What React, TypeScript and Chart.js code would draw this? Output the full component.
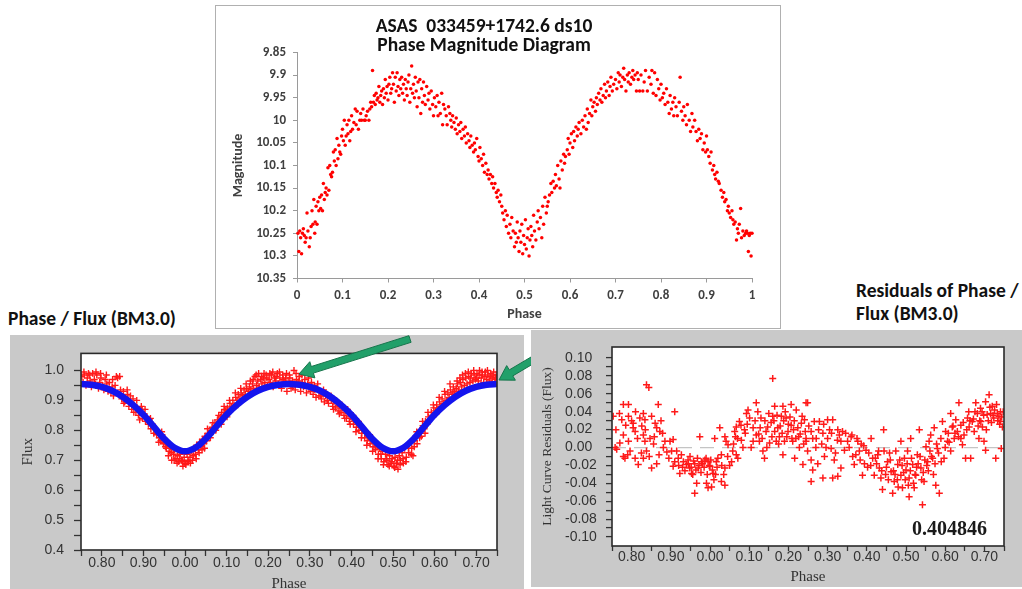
import React, { useEffect, useRef } from "react";
import { Chart, registerables } from "chart.js";
Chart.register(...registerables);

// ---------------- DATA ----------------
const topTitle = ["ASAS  033459+1742.6 ds10", "Phase Magnitude Diagram"];
const panelLeftTitle = "Phase / Flux (BM3.0)";
const panelRightTitle = ["Residuals of Phase /", "Flux (BM3.0)"];
const residualStat = "0.404846";

// phase, magnitude
const topPoints: [number, number][] = [
  [0.002,10.25],[0.004,10.29],[0.006,10.245],[0.008,10.26],[0.010,10.295],[0.012,10.25],[0.014,10.24],[0.016,10.255],[0.018,10.27],[0.020,10.26],
  [0.022,10.205],[0.024,10.245],[0.027,10.28],[0.029,10.26],[0.031,10.235],[0.033,10.2],[0.035,10.23],[0.037,10.175],[0.039,10.25],[0.040,10.225],
  [0.042,10.19],[0.044,10.23],[0.046,10.18],[0.048,10.2],[0.050,10.17],[0.052,10.195],[0.054,10.165],[0.056,10.2],[0.058,10.14],[0.060,10.175],
  [0.062,10.16],[0.064,10.15],[0.066,10.165],[0.068,10.105],[0.070,10.155],[0.072,10.1],[0.074,10.12],[0.076,10.125],[0.078,10.115],
  [0.080,10.07],[0.082,10.09],[0.084,10.065],[0.086,10.1],[0.088,10.04],[0.090,10.085],[0.092,10.055],[0.094,10.07],[0.096,10.075],[0.098,10.035],
  [0.100,10.02],[0.102,10.045],[0.104,10.0],[0.106,10.055],[0.108,10.035],[0.110,10.01],[0.112,10.03],[0.114,10.0],[0.116,10.045],[0.118,10.025],[0.120,9.99],[0.122,10.02],[0.125,10.005],[0.128,9.975],
  [0.130,10.01],[0.132,9.98],[0.135,10.02],[0.138,10.0],[0.140,9.985],[0.142,10.0],[0.145,9.975],[0.148,10.0],[0.150,10.0],[0.152,9.99],[0.155,9.98],[0.158,10.0],
  [0.160,9.975],[0.162,9.96],[0.164,9.97],[0.166,9.89],[0.168,9.96],[0.170,9.945],[0.172,9.965],[0.174,9.94],[0.176,9.955],[0.178,9.95],[0.180,9.925],[0.182,9.96],[0.184,9.945],[0.186,9.935],[0.188,9.965],
  [0.190,9.93],[0.192,9.95],[0.194,9.91],[0.196,9.94],[0.198,9.925],[0.200,9.955],[0.202,9.92],[0.204,9.905],[0.206,9.94],[0.208,9.93],[0.210,9.895],[0.212,9.92],[0.214,9.96],[0.216,9.905],[0.218,9.935],[0.220,9.895],[0.222,9.925],[0.224,9.945],[0.226,9.91],[0.228,9.93],
  [0.230,9.905],[0.232,9.94],[0.234,9.92],[0.236,9.955],[0.238,9.91],[0.240,9.93],[0.242,9.945],[0.244,9.915],[0.246,9.9],[0.248,9.96],[0.250,9.93],[0.252,9.88],[0.254,9.94],[0.256,9.92],[0.258,9.95],
  [0.260,9.905],[0.262,9.935],[0.264,9.97],[0.266,9.915],[0.268,9.95],[0.270,9.91],[0.272,9.985],[0.274,9.93],[0.276,9.96],[0.278,9.915],[0.280,9.945],[0.282,9.965],[0.285,9.925],[0.288,9.955],[0.290,9.94],[0.292,9.975],[0.295,9.935],[0.298,9.965],
  [0.300,9.99],[0.302,9.95],[0.305,9.97],[0.308,9.945],[0.310,9.99],[0.312,9.96],[0.315,9.985],[0.318,9.94],[0.320,10.01],[0.322,9.965],[0.325,9.975],[0.328,9.99],[0.330,10.01],[0.333,9.97],[0.336,9.985],[0.338,10.0],
  [0.340,10.015],[0.342,9.99],[0.345,10.005],[0.348,10.02],[0.350,9.995],[0.352,10.03],[0.355,10.01],[0.358,10.025],[0.360,10.005],[0.362,10.04],[0.365,10.02],[0.368,10.035],
  [0.370,10.015],[0.372,10.05],[0.375,10.03],[0.378,10.045],[0.380,10.06],[0.382,10.035],[0.385,10.055],[0.388,10.07],[0.390,10.05],[0.392,10.065],[0.395,10.04],[0.398,10.08],
  [0.400,10.09],[0.402,10.06],[0.405,10.085],[0.408,10.1],[0.410,10.075],[0.412,10.115],[0.415,10.095],[0.418,10.12],[0.420,10.11],[0.422,10.13],[0.425,10.12],[0.428,10.14],
  [0.430,10.125],[0.432,10.15],[0.435,10.14],[0.438,10.16],[0.440,10.17],[0.442,10.155],[0.445,10.18],[0.448,10.165],[0.450,10.19],[0.452,10.205],
  [0.455,10.22],[0.458,10.2],[0.460,10.235],[0.462,10.21],[0.465,10.25],[0.468,10.23],[0.470,10.26],[0.472,10.215],[0.475,10.245],[0.478,10.28],[0.480,10.25],[0.482,10.27],[0.484,10.225],
  [0.486,10.26],[0.488,10.29],[0.490,10.245],[0.492,10.27],[0.494,10.23],[0.496,10.295],[0.498,10.255],[0.500,10.275],[0.502,10.22],[0.504,10.285],[0.506,10.26],[0.508,10.24],[0.510,10.3],[0.512,10.265],[0.514,10.235],[0.516,10.255],[0.518,10.28],
  [0.520,10.21],[0.522,10.245],[0.525,10.265],[0.528,10.225],[0.530,10.2],[0.532,10.24],[0.535,10.215],[0.538,10.26],[0.540,10.19],[0.542,10.23],[0.545,10.17],[0.548,10.205],[0.550,10.19],[0.552,10.18],[0.555,10.165],
  [0.558,10.14],[0.560,10.16],[0.563,10.135],[0.566,10.15],[0.568,10.12],[0.570,10.145],[0.573,10.1],[0.576,10.13],[0.578,10.15],[0.580,10.09],[0.583,10.11],[0.586,10.075],[0.588,10.095],[0.590,10.08],
  [0.594,10.065],[0.596,10.04],[0.598,10.075],[0.600,10.05],[0.603,10.03],[0.606,10.06],[0.608,10.025],[0.610,10.045],[0.613,10.015],[0.616,10.035],[0.618,10.02],[0.620,10.005],
  [0.624,10.03],[0.627,10.0],[0.630,10.015],[0.633,9.99],[0.636,10.02],[0.638,9.975],[0.640,10.005],[0.643,9.985],[0.646,9.955],[0.648,9.99],[0.650,9.97],[0.653,9.96],[0.656,9.98],[0.658,9.95],
  [0.660,9.965],[0.663,9.94],[0.666,9.955],[0.668,9.93],[0.670,9.96],[0.673,9.945],[0.676,9.92],[0.678,9.95],[0.680,9.935],[0.683,9.915],[0.686,9.945],[0.688,9.925],[0.690,9.905],[0.693,9.935],[0.696,9.92],
  [0.700,9.91],[0.703,9.93],[0.706,9.895],[0.708,9.915],[0.710,9.9],[0.713,9.925],[0.716,9.905],[0.718,9.885],[0.720,9.91],[0.723,9.935],[0.726,9.9],[0.728,9.915],[0.730,9.895],[0.733,9.92],[0.736,9.905],[0.738,9.89],
  [0.740,9.91],[0.743,9.9],[0.746,9.935],[0.748,9.895],[0.750,9.91],[0.753,9.935],[0.756,9.9],[0.760,9.935],[0.763,9.915],[0.766,9.89],[0.770,9.935],[0.774,9.905],[0.778,9.92],[0.780,9.89],[0.783,9.94],
  [0.786,9.895],[0.789,9.945],[0.792,9.91],[0.795,9.93],[0.798,9.955],[0.800,9.92],[0.803,9.95],[0.806,9.94],[0.809,9.965],[0.812,9.93],[0.815,9.96],[0.818,9.985],[0.820,9.945],[0.823,9.975],[0.826,9.96],[0.828,9.99],
  [0.830,9.95],[0.833,9.97],[0.836,9.99],[0.840,9.96],[0.842,9.905],[0.845,9.98],[0.848,10.0],[0.850,9.97],[0.853,9.99],[0.856,10.01],[0.858,9.965],[0.862,10.0],[0.865,10.025],[0.868,9.985],[0.870,10.015],
  [0.874,10.0],[0.877,10.025],[0.880,10.045],[0.883,10.02],[0.886,10.04],[0.889,10.03],[0.892,10.065],[0.895,10.05],[0.898,10.07],[0.900,10.035],
  [0.902,10.065],[0.905,10.08],[0.908,10.095],[0.910,10.07],[0.913,10.11],[0.916,10.1],[0.918,10.12],[0.920,10.13],[0.923,10.115],[0.926,10.135],[0.928,10.14],
  [0.932,10.155],[0.935,10.17],[0.938,10.16],[0.940,10.18],[0.943,10.175],[0.946,10.2],[0.948,10.19],[0.950,10.205],[0.953,10.215],[0.956,10.2],[0.958,10.22],
  [0.960,10.23],[0.963,10.225],[0.966,10.265],[0.968,10.24],[0.970,10.25],[0.972,10.23],[0.975,10.195],[0.977,10.26],[0.980,10.245],[0.983,10.255],[0.986,10.25],[0.988,10.245],
  [0.990,10.25],[0.992,10.29],[0.994,10.255],[0.996,10.25],[0.998,10.3],[1.0,10.25],
];

// model light curve (blue), phase shown from 0.75 to 1.75
const modelPhase = [0.75,0.775,0.8,0.825,0.85,0.875,0.9,0.925,0.95,0.975,1.0,1.025,1.05,1.075,1.1,1.125,1.15,1.175,1.2,1.225,1.25,1.275,1.3,1.325,1.35,1.375,1.4,1.425,1.45,1.475,1.5,1.525,1.55,1.575,1.6,1.625,1.65,1.675,1.7,1.725,1.75];
const modelFlux = [0.955,0.952,0.945,0.932,0.912,0.885,0.852,0.812,0.772,0.742,0.730,0.742,0.772,0.812,0.852,0.885,0.912,0.932,0.945,0.952,0.955,0.952,0.945,0.932,0.912,0.885,0.852,0.812,0.772,0.742,0.730,0.742,0.772,0.812,0.852,0.885,0.912,0.932,0.945,0.952,0.955];

// observed flux (red crosses)
const fluxPoints: [number, number][] = [
  [0.752,0.98],[0.755,0.96],[0.758,0.985],[0.762,0.95],[0.765,0.975],[0.768,0.99],[0.772,0.965],[0.775,0.945],[0.778,0.99],[0.782,0.97],[0.785,0.955],[0.788,0.985],[0.792,0.94],[0.795,0.96],[0.798,0.975],
  [0.802,0.95],[0.805,0.935],[0.808,0.97],[0.812,0.955],[0.815,0.93],[0.818,0.96],[0.822,0.925],[0.825,0.945],[0.828,0.915],[0.832,0.95],[0.835,0.98],[0.838,0.975],[0.842,0.92],[0.845,0.935],[0.848,0.905],
  [0.852,0.93],[0.855,0.895],[0.858,0.91],[0.862,0.92],[0.865,0.88],[0.868,0.895],[0.872,0.87],[0.875,0.905],[0.878,0.885],[0.882,0.86],[0.885,0.875],[0.888,0.85],[0.892,0.865],[0.895,0.88],[0.898,0.84],
  [0.902,0.855],[0.905,0.83],[0.908,0.845],[0.912,0.82],[0.915,0.835],[0.918,0.805],[0.922,0.82],[0.925,0.79],[0.928,0.805],[0.932,0.785],[0.935,0.795],[0.938,0.775],[0.942,0.765],[0.945,0.785],[0.948,0.755],
  [0.952,0.76],[0.955,0.74],[0.958,0.755],[0.962,0.73],[0.965,0.745],[0.968,0.7],[0.972,0.72],[0.975,0.735],[0.978,0.705],[0.982,0.715],[0.985,0.695],[0.988,0.72],[0.992,0.7],[0.995,0.68],[0.998,0.71],
  [1.002,0.685],[1.005,0.72],[1.008,0.695],[1.012,0.71],[1.015,0.73],[1.018,0.7],[1.022,0.74],[1.025,0.72],[1.028,0.75],[1.032,0.735],[1.035,0.76],[1.038,0.745],[1.042,0.77],[1.045,0.755],[1.048,0.78],
  [1.052,0.765],[1.055,0.79],[1.058,0.785],[1.062,0.8],[1.065,0.81],[1.068,0.795],[1.072,0.825],[1.075,0.815],[1.078,0.835],[1.082,0.83],[1.085,0.845],[1.088,0.86],[1.092,0.85],[1.095,0.87],[1.098,0.865],
  [1.102,0.875],[1.105,0.86],[1.108,0.89],[1.112,0.88],[1.115,0.9],[1.118,0.885],[1.122,0.91],[1.125,0.9],[1.128,0.92],[1.132,0.905],[1.135,0.925],[1.138,0.915],[1.142,0.935],[1.145,0.92],[1.148,0.94],
  [1.152,0.93],[1.155,0.945],[1.158,0.935],[1.162,0.955],[1.165,0.94],[1.168,0.98],[1.172,0.95],[1.175,0.965],[1.178,0.945],[1.182,0.97],[1.185,0.955],[1.188,0.975],[1.192,0.96],[1.195,0.985],[1.198,0.95],
  [1.202,0.97],[1.205,0.96],[1.208,0.985],[1.212,0.945],[1.215,0.975],[1.218,0.965],[1.222,0.99],[1.225,0.955],[1.228,0.975],[1.232,0.94],[1.235,0.985],[1.238,0.965],[1.242,0.975],[1.245,0.93],[1.248,0.96],
  [1.252,0.975],[1.255,0.94],[1.258,0.965],[1.262,1.0],[1.265,0.935],[1.268,0.97],[1.272,0.955],[1.275,0.98],[1.278,0.93],[1.282,0.96],[1.285,0.945],[1.288,0.97],[1.292,0.925],[1.295,0.955],[1.298,0.94],
  [1.302,0.93],[1.305,0.95],[1.308,0.92],[1.312,0.935],[1.315,0.91],[1.318,0.94],[1.322,0.915],[1.325,0.93],[1.328,0.905],[1.332,0.92],[1.335,0.895],[1.338,0.915],[1.342,0.9],[1.345,0.89],[1.348,0.91],
  [1.352,0.9],[1.355,0.88],[1.358,0.895],[1.362,0.875],[1.365,0.89],[1.368,0.865],[1.372,0.88],[1.375,0.86],[1.378,0.875],[1.382,0.85],[1.385,0.865],[1.388,0.84],[1.392,0.855],[1.395,0.83],[1.398,0.845],
  [1.402,0.84],[1.405,0.82],[1.408,0.835],[1.412,0.81],[1.415,0.825],[1.418,0.8],[1.422,0.815],[1.425,0.79],[1.428,0.8],[1.432,0.775],[1.435,0.79],[1.438,0.765],[1.442,0.78],[1.445,0.755],[1.448,0.77],
  [1.452,0.745],[1.455,0.76],[1.458,0.735],[1.462,0.75],[1.465,0.72],[1.468,0.74],[1.472,0.705],[1.475,0.73],[1.478,0.695],[1.482,0.72],[1.485,0.7],[1.488,0.685],[1.492,0.715],[1.495,0.69],[1.498,0.705],
  [1.502,0.68],[1.505,0.71],[1.508,0.69],[1.512,0.67],[1.515,0.715],[1.518,0.7],[1.522,0.725],[1.525,0.69],[1.528,0.74],[1.532,0.71],[1.535,0.75],[1.538,0.725],[1.542,0.76],[1.545,0.74],[1.548,0.715],
  [1.552,0.765],[1.555,0.78],[1.558,0.755],[1.562,0.79],[1.565,0.8],[1.568,0.78],[1.572,0.815],[1.575,0.805],[1.578,0.83],[1.582,0.82],[1.585,0.845],[1.588,0.835],[1.592,0.86],[1.595,0.85],[1.598,0.875],
  [1.602,0.865],[1.605,0.885],[1.608,0.87],[1.612,0.895],[1.615,0.88],[1.618,0.905],[1.622,0.89],[1.625,0.92],[1.628,0.9],[1.632,0.925],[1.635,0.91],[1.638,0.935],[1.642,0.92],[1.645,0.945],[1.648,0.93],
  [1.652,0.94],[1.655,0.955],[1.658,0.935],[1.662,0.96],[1.665,0.945],[1.668,0.97],[1.672,0.95],[1.675,0.975],[1.678,0.955],[1.682,0.98],[1.685,0.96],[1.688,0.99],[1.692,0.965],[1.695,0.985],[1.698,0.97],
  [1.702,0.99],[1.705,0.965],[1.708,1.0],[1.712,0.975],[1.715,0.985],[1.718,0.96],[1.722,0.995],[1.725,0.97],[1.728,0.985],[1.732,0.965],[1.735,0.99],[1.738,0.975],[1.742,0.995],[1.745,0.97],[1.748,0.985],
  [0.757,0.995],[0.771,0.985],[0.786,0.995],[0.797,0.99],[0.811,0.985],[0.826,0.97],[0.843,0.98],
  [0.853,0.89],[0.861,0.935],[0.869,0.915],[0.877,0.86],[0.884,0.9],[0.891,0.835],[0.897,0.87],[0.904,0.87],[0.911,0.835],[0.917,0.84],[0.924,0.81],[0.931,0.8],[0.937,0.76],[0.944,0.795],[0.949,0.775],
  [0.953,0.745],[0.96,0.715],[0.967,0.725],[0.974,0.7],[0.981,0.69],[0.987,0.705],[0.994,0.695],[1.0,0.69],[1.007,0.7],[1.013,0.69],[1.02,0.715],[1.027,0.705],[1.034,0.725],[1.041,0.735],[1.047,0.74],
  [1.054,0.805],[1.061,0.775],[1.067,0.825],[1.074,0.8],[1.081,0.85],[1.087,0.82],[1.094,0.88],[1.101,0.845],[1.107,0.9],[1.114,0.87],[1.121,0.925],[1.127,0.885],[1.134,0.94],[1.141,0.905],[1.147,0.955],
  [1.157,0.965],[1.164,0.97],[1.171,0.985],[1.177,0.99],[1.184,0.98],[1.19,0.99],[1.197,0.975],[1.204,0.99],[1.211,0.995],[1.219,0.98],[1.227,0.995],[1.236,0.97],[1.244,0.99],[1.251,0.985],[1.259,0.945],
  [1.267,0.99],[1.274,0.965],[1.281,0.985],[1.289,0.95],[1.297,0.975],[1.304,0.96],[1.311,0.95],[1.319,0.955],[1.326,0.915],[1.333,0.935],[1.341,0.92],
  [1.351,0.915],[1.357,0.87],[1.364,0.9],[1.371,0.855],[1.377,0.885],[1.384,0.84],[1.391,0.87],[1.397,0.82],[1.404,0.85],[1.411,0.795],[1.417,0.83],[1.424,0.775],[1.431,0.8],[1.437,0.75],[1.444,0.785],
  [1.451,0.73],[1.457,0.745],[1.464,0.705],[1.471,0.72],[1.477,0.685],[1.484,0.705],[1.491,0.68],[1.497,0.695],[1.504,0.675],[1.511,0.7],[1.517,0.685],[1.524,0.705],[1.531,0.695],[1.537,0.74],[1.544,0.72],
  [1.551,0.745],[1.557,0.795],[1.564,0.775],[1.571,0.83],[1.577,0.79],[1.584,0.86],[1.591,0.84],[1.597,0.885],[1.604,0.855],[1.611,0.91],[1.617,0.875],[1.624,0.93],[1.631,0.9],[1.637,0.955],[1.644,0.925],
  [1.654,0.965],[1.661,0.975],[1.667,0.985],[1.674,0.99],[1.681,0.995],[1.687,0.975],[1.694,1.0],[1.701,0.975],[1.707,0.985],[1.714,0.995],[1.721,0.98],[1.727,1.0],[1.734,0.98],[1.741,0.985],[1.747,0.975],
];

// residuals (red crosses)
const residualPoints: [number, number][] = [
  [0.758,0.0],[0.762,-0.002],[0.753,0.035],[0.769,0.038],[0.779,0.048],[0.792,0.048],[0.792,0.035],[0.775,0.031],[0.779,-0.01],[0.783,-0.012],[0.796,-0.004],
  [0.804,0.027],[0.804,0.022],[0.809,0.018],[0.792,0.007],[0.779,0.014],[0.809,-0.012],[0.817,-0.019],[0.821,0.033],[0.83,0.038],[0.834,0.031],[0.838,0.07],[0.844,0.067],
  [0.83,0.014],[0.834,0.007],[0.83,-0.012],[0.838,-0.004],[0.847,0.01],[0.851,0.035],[0.86,0.027],[0.864,0.022],[0.851,-0.023],[0.868,0.048],[0.872,0.018],[0.879,0.016],
  [0.885,0.007],[0.864,-0.018],[0.881,0.0],[0.898,0.007],[0.906,0.009],[0.91,0.04],[0.902,-0.004],[0.915,-0.004],[0.919,-0.012],[0.906,-0.021],[0.923,-0.029],[0.932,-0.016],
  [0.94,-0.019],[0.948,-0.023],[0.953,-0.029],[0.944,-0.014],[0.961,-0.018],[0.97,-0.023],[0.966,-0.04],[0.961,-0.051],[0.974,0.012],[0.978,-0.016],[0.987,-0.014],[0.995,-0.016],
  [0.991,-0.04],[0.995,-0.045],[1.004,-0.044],[1.0,-0.021],[1.008,-0.029],[1.016,-0.016],[1.012,0.01],[1.025,0.022],[1.029,-0.008],[1.038,0.012],[1.041,0.007],[1.046,0.003],
  [1.038,-0.023],[1.038,-0.042],[1.029,-0.038],[1.055,-0.016],[1.063,0.018],[1.067,0.023],[1.075,0.029],[1.079,0.025],[1.067,-0.008],[1.071,-0.012],[1.084,0.0],[1.088,0.02],
  [1.093,0.038],[1.097,0.042],[1.101,0.033],[1.11,0.007],[1.118,0.05],[1.118,0.014],[1.122,0.04],[1.126,0.007],[1.13,0.033],[1.135,-0.004],[1.139,-0.012],[1.143,0.018],
  [1.147,0.023],[1.152,0.005],[1.16,0.077],[1.16,0.035],[1.165,0.018],[1.165,0.046],[1.169,0.007],[1.173,0.022],[1.177,0.012],[1.182,0.035],[1.186,0.046],[1.186,-0.008],
  [1.19,0.007],[1.194,0.033],[1.199,0.018],[1.207,0.048],[1.207,0.025],[1.211,0.007],[1.216,-0.012],[1.22,0.042],[1.224,0.022],[1.228,0.0],[1.233,0.027],[1.237,-0.019],
  [1.245,0.05],[1.245,0.01],[1.249,0.05],[1.241,0.031],[1.266,0.029],[1.279,0.029],[1.3,0.031],[1.313,0.031],[1.258,0.018],[1.271,0.01],[1.288,0.016],[1.3,0.01],
  [1.245,0.007],[1.249,-0.004],[1.258,-0.014],[1.275,-0.018],[1.262,-0.025],[1.258,-0.038],[1.288,-0.034],[1.292,-0.01],[1.309,-0.001],[1.317,-0.014],[1.313,-0.034],
  [1.326,0.02],[1.33,0.014],[1.334,0.007],[1.334,-0.023],[1.326,-0.032],[1.343,-0.003],[1.351,0.007],[1.36,0.012],[1.364,-0.01],[1.368,-0.019],[1.377,0.007],[1.381,-0.004],
  [1.389,-0.031],[1.394,-0.018],[1.398,-0.003],[1.411,0.01],[1.415,-0.012],[1.419,-0.031],[1.428,-0.008],[1.432,-0.023],[1.436,-0.034],[1.44,-0.047],[1.443,0.02],[1.444,-0.004],
  [1.453,-0.016],[1.462,-0.027],[1.466,-0.051],[1.47,-0.038],[1.474,-0.004],[1.479,-0.019],[1.487,0.007],[1.487,-0.031],[1.491,-0.045],[1.496,-0.012],[1.5,-0.025],[1.504,-0.004],
  [1.508,-0.055],[1.508,-0.034],[1.512,0.01],[1.517,-0.019],[1.521,-0.045],[1.525,-0.031],[1.529,-0.008],[1.534,0.02],[1.538,-0.023],[1.542,-0.064],[1.546,-0.038],[1.551,0.001],
  [1.555,-0.016],[1.559,0.007],[1.563,0.014],[1.568,-0.012],[1.572,0.022],[1.576,-0.042],[1.58,-0.001],[1.585,-0.051],[1.589,0.01],[1.593,0.029],[1.597,-0.012],[1.601,0.018],
  [1.606,0.007],[1.614,0.038],[1.614,-0.004],[1.618,0.023],[1.623,0.01],[1.627,0.031],[1.631,0.018],[1.635,0.05],[1.64,0.025],[1.644,0.003],[1.648,0.014],[1.652,-0.012],
  [1.657,0.033],[1.661,0.023],[1.665,-0.012],[1.669,0.029],[1.674,0.018],[1.678,0.05],[1.682,0.038],[1.686,0.01],[1.691,0.029],[1.695,0.023],[1.699,0.007],[1.703,-0.003],
  [1.703,0.051],[1.707,0.037],[1.712,0.059],[1.716,0.038],[1.72,0.046],[1.724,0.033],[1.729,-0.012],[1.733,0.038],[1.737,0.035],[1.741,0.04],[1.743,-0.001],[1.746,0.023],[1.741,0.029],
  [0.945,-0.018],[0.952,-0.022],[0.958,-0.015],[0.964,-0.025],[0.972,-0.02],[0.981,-0.018],[0.99,-0.012],[0.998,-0.02],[1.006,-0.025],[1.014,-0.03],[1.02,-0.012],[1.11,0.022],
  [1.124,0.015],[1.156,0.028],[1.171,0.036],[1.179,0.024],[1.188,0.03],[1.196,0.012],[1.204,0.034],[1.213,0.02],[1.219,0.01],[1.23,0.015],[1.239,0.004],[1.27,0.0],[1.285,0.004],
  [1.305,0.02],[1.32,-0.006],[1.346,0.016],[1.372,-0.008],[1.386,0.004],[1.402,-0.022],[1.422,-0.012],[1.448,-0.03],[1.458,-0.006],[1.468,-0.026],[1.478,-0.036],[1.484,-0.014],
  [1.494,-0.028],[1.503,-0.018],[1.511,-0.026],[1.519,-0.04],[1.527,-0.022],[1.536,-0.01],[1.544,-0.028],[1.553,-0.02],[1.561,-0.004],[1.57,-0.03],[1.578,0.004],[1.608,0.016],
  [1.62,0.024],[1.634,0.012],[1.646,0.028],[1.66,0.04],[1.672,0.032],[1.684,0.024],[1.69,0.044],[1.698,0.036],[1.71,0.03],[1.718,0.028],[1.726,0.042],[1.734,0.03],[1.744,0.034],
  [0.8,0.03],[0.815,0.01],[0.826,0.024],[0.856,0.004],[0.87,-0.008],[0.895,-0.012],[0.91,-0.016],[0.93,-0.022],[1.03,-0.02],[1.045,-0.01],[1.06,0.004],[1.07,0.01],[1.09,0.016],
  [1.105,0.0],[1.14,0.03],
  [0.76,0.02],[0.77,0.005],[0.785,0.025],[0.79,-0.008],[0.81,0.04],[0.825,-0.006],[0.835,0.02],[0.845,-0.01],[0.858,0.012],[0.875,0.03],[0.89,-0.005],[0.92,-0.02],
  [0.927,-0.008],[0.936,-0.026],[0.949,-0.01],[0.956,-0.03],[0.968,-0.012],[0.977,-0.028],[0.985,-0.022],[0.993,-0.03],[1.002,-0.014],[1.01,-0.036],[1.018,-0.022],[1.035,-0.03],
  [1.05,-0.02],[1.058,-0.004],[1.065,0.012],[1.08,0.008],[1.095,0.026],[1.115,0.03],[1.128,0.022],[1.133,0.01],[1.145,0.0],[1.15,0.038],[1.158,0.012],[1.163,0.03],
  [1.175,0.004],[1.184,0.016],[1.192,0.04],[1.2,0.026],[1.209,0.01],[1.215,0.03],[1.226,0.012],[1.235,0.035],[1.243,0.018],[1.252,0.024],[1.262,0.01],[1.277,0.02],
  [1.29,0.026],[1.296,0.0],[1.31,0.016],[1.325,0.008],[1.338,0.018],[1.355,0.0],[1.362,0.014],[1.375,0.01],[1.383,-0.014],[1.392,0.002],[1.405,-0.006],[1.41,-0.02],
  [1.425,-0.018],[1.43,-0.004],[1.438,-0.026],[1.45,-0.022],[1.455,-0.036],[1.46,-0.014],[1.472,-0.03],[1.48,-0.044],[1.49,-0.02],[1.498,-0.036],[1.506,-0.042],[1.514,-0.012],
  [1.523,-0.03],[1.531,-0.018],[1.54,-0.036],[1.548,-0.014],[1.557,-0.026],[1.565,-0.01],[1.574,-0.018],[1.583,-0.006],[1.59,-0.016],[1.6,0.0],[1.61,0.006],[1.625,0.016],
  [1.64,0.01],[1.655,0.02],[1.663,0.03],[1.676,0.04],[1.688,0.03],[1.694,0.04],[1.705,0.02],[1.714,0.045],[1.722,0.036],[1.731,0.048],[1.739,0.026],[1.748,0.04],
];

// ---------------- STYLE ----------------
const HEAD = "Carlito, Lato, 'Open Sans', sans-serif";
const TICK = "'Liberation Sans', Arial, sans-serif";
const SERIF = "'Liberation Serif', 'Times New Roman', serif";
const RED = "#ff1a1a";
const BLUE = "#1414ee";

const multipleOf = (v: number, step: number) => {
  const r = v / step;
  return Math.abs(r - Math.round(r)) < 1e-6;
};

const plotFrame = {
  id: "plotFrame",
  beforeDraw(chart: any) {
    const { ctx, chartArea: a } = chart;
    ctx.save();
    ctx.fillStyle = "#ffffff";
    ctx.fillRect(a.left, a.top, a.right - a.left, a.bottom - a.top);
    ctx.restore();
  },
  afterDatasetsDraw(chart: any) {
    const { ctx, chartArea: a } = chart;
    ctx.save();
    ctx.strokeStyle = "#2a2a2a";
    ctx.lineWidth = 1.6;
    ctx.strokeRect(a.left, a.top, a.right - a.left, a.bottom - a.top);
    ctx.restore();
  },
};

const sideTitle = {
  id: "sideTitle",
  afterDraw(chart: any, _args: any, opts: any) {
    if (!opts || !opts.text) return;
    const { ctx, chartArea: a } = chart;
    ctx.save();
    ctx.translate(opts.x, (a.top + a.bottom) / 2);
    ctx.rotate(-Math.PI / 2);
    ctx.font = opts.font;
    ctx.fillStyle = opts.color;
    ctx.textAlign = "center";
    ctx.textBaseline = "middle";
    ctx.fillText(opts.text, 0, 0);
    ctx.restore();
  },
};

const phaseAxis = (height: number, labelPad: number, titlePadBottom: number, tickLen: number) => ({
  type: "linear",
  min: 0.75,
  max: 1.75,
  afterFit: (s: any) => { s.height = height; },
  afterBuildTicks: (s: any) => { s.ticks = s.ticks.filter((t: any) => multipleOf(t.value, 0.05)); },
  ticks: {
    stepSize: 0.05,
    autoSkip: false,
    maxRotation: 0,
    padding: labelPad,
    color: "#333",
    font: { family: TICK, size: 14 },
    callback: (v: any) => {
      const n = Math.round(Number(v) * 100);
      return n % 10 === 0 ? ((n % 100) / 100).toFixed(2) : "";
    },
  },
  grid: { drawOnChartArea: false, tickLength: tickLen, tickColor: "#333", tickWidth: 1.3 },
  border: { display: false },
  title: { display: true, text: "Phase", color: "#333", font: { family: SERIF, size: 15 }, padding: { top: 0, bottom: titlePadBottom } },
});

function topConfig(): any {
  return {
    type: "scatter",
    data: {
      datasets: [{
        data: topPoints.map(([x, y]) => ({ x, y })),
        pointRadius: 1.75,
        pointBackgroundColor: "#ff0000",
        pointBorderWidth: 0,
        clip: false,
      }],
    },
    options: {
      animation: false, responsive: false, events: [],
      layout: { padding: { left: 0, right: 28, top: 0, bottom: 0 } },
      plugins: {
        legend: { display: false }, tooltip: { enabled: false },
        title: {
          display: true, text: topTitle, color: "#111",
          font: { family: HEAD, size: 19.5, weight: "bold", lineHeight: 1.0 },
          padding: { top: 11.25, bottom: -3.75 },
        },
      },
      scales: {
        x: {
          type: "linear", min: 0, max: 1,
          afterFit: (s: any) => { s.height = 49.5; },
          ticks: {
            stepSize: 0.1, autoSkip: false, maxRotation: 0, padding: 5.5, color: "#404040",
            font: { family: HEAD, size: 13, weight: "bold" },
            callback: (v: any) => String(parseFloat(Number(v).toFixed(1))),
          },
          grid: { drawOnChartArea: false, tickLength: 4, tickColor: "#9a9a9a" },
          border: { color: "#9a9a9a", width: 1 },
          title: { display: true, text: "Phase", color: "#404040", font: { family: HEAD, size: 14, weight: "bold" }, padding: { top: 0, bottom: 5.6 } },
        },
        y: {
          type: "linear", reverse: true, min: 9.85, max: 10.35,
          afterFit: (s: any) => { s.width = 81; },
          ticks: {
            stepSize: 0.05, autoSkip: false, padding: 7, color: "#404040",
            font: { family: HEAD, size: 13, weight: "bold" },
            callback: (v: any) => String(parseFloat(Number(v).toFixed(2))),
          },
          grid: { drawOnChartArea: false, tickLength: 4, tickColor: "#9a9a9a" },
          border: { color: "#9a9a9a", width: 1 },
          title: { display: true, text: "Magnitude", color: "#404040", font: { family: HEAD, size: 14, weight: "bold" }, padding: { top: 13.6, bottom: 0 } },
        },
      },
    },
  };
}

function fluxConfig(): any {
  return {
    type: "scatter",
    data: {
      datasets: [
        {
          data: modelPhase.map((x, i) => ({ x, y: modelFlux[i] })),
          showLine: true,
          borderColor: BLUE,
          borderWidth: 6.5,
          pointRadius: 0,
          cubicInterpolationMode: "monotone",
          order: 0,
        },
        {
          data: fluxPoints.map(([x, y]) => ({ x, y })),
          pointStyle: "cross",
          pointRadius: 3.4,
          pointBorderWidth: 1.4,
          pointBorderColor: RED,
          borderColor: RED,
          order: 1,
        },
      ],
    },
    plugins: [plotFrame],
    options: {
      animation: false, responsive: false, events: [],
      layout: { padding: { left: 0, right: 27, top: 18, bottom: 0 } },
      plugins: { legend: { display: false }, tooltip: { enabled: false } },
      scales: {
        x: phaseAxis(45, -1, 2, 6),
        y: {
          type: "linear", min: 0.4, max: 1.057,
          afterFit: (s: any) => { s.width = 71; },
          afterBuildTicks: (s: any) => { s.ticks = s.ticks.filter((t: any) => multipleOf(t.value, 0.05) && t.value < 1.056); },
          ticks: {
            stepSize: 0.05, autoSkip: false, padding: 10, color: "#333",
            font: { family: TICK, size: 14 },
            callback: (v: any) => {
              const n = Math.round(Number(v) * 100);
              return n % 10 === 0 ? (n / 100).toFixed(1) : "";
            },
          },
          grid: { drawOnChartArea: false, tickLength: 7, tickColor: "#333", tickWidth: 1.3 },
          border: { display: false },
          title: { display: true, text: "Flux", color: "#333", font: { family: SERIF, size: 15 }, padding: { top: 9, bottom: 0 } },
        },
      },
    },
  };
}

function residualConfig(): any {
  return {
    type: "scatter",
    data: {
      datasets: [{
        data: residualPoints.map(([x, y]) => ({ x, y })),
        pointStyle: "cross",
        pointRadius: 3.5,
        pointBorderWidth: 1.5,
        pointBorderColor: RED,
        borderColor: RED,
      }],
    },
    plugins: [plotFrame, sideTitle],
    options: {
      animation: false, responsive: false, events: [],
      layout: { padding: { left: 34, right: 18, top: 17, bottom: 0 } },
      plugins: {
        legend: { display: false }, tooltip: { enabled: false },
        sideTitle: { x: 16, text: "Light Curve Residuals (Flux)", font: `13.5px ${SERIF}`, color: "#333" },
      },
      scales: {
        x: phaseAxis(41, -2, 1.3, 5),
        y: {
          type: "linear", min: -0.11, max: 0.1123,
          afterFit: (s: any) => { s.width = 47; },
          afterBuildTicks: (s: any) => { s.ticks = s.ticks.filter((t: any) => multipleOf(t.value, 0.01) && t.value > -0.1095 && t.value < 0.112); },
          ticks: {
            stepSize: 0.01, autoSkip: false, padding: 4, color: "#333", crossAlign: "far",
            font: { family: TICK, size: 14 },
            callback: (v: any) => {
              const n = Math.round(Number(v) * 100);
              return n % 2 === 0 ? (n / 100).toFixed(2) : "";
            },
          },
          grid: {
            drawOnChartArea: true,
            color: (c: any) => (c.tick && Math.abs(c.tick.value) < 1e-9 ? "#c4c4c4" : "rgba(0,0,0,0)"),
            lineWidth: 1.2,
            tickLength: 6, tickColor: "#333", tickWidth: 1.3,
          },
          border: { display: false, dash: [14, 8] },
        },
      },
    },
  };
}

function ChartCanvas({ width, height, config }: { width: number; height: number; config: () => any }) {
  const ref = useRef<HTMLCanvasElement>(null);
  useEffect(() => {
    const chart = new Chart(ref.current as HTMLCanvasElement, config());
    return () => chart.destroy();
  }, []);
  return <canvas ref={ref} width={width} height={height} style={{ width, height, display: "block" }} />;
}

function arrowPoints(tx: number, ty: number, px: number, py: number, shaft: number, headW: number, headL: number) {
  const dx = px - tx, dy = py - ty;
  const len = Math.hypot(dx, dy);
  const ux = dx / len, uy = dy / len;
  const nx = -uy, ny = ux;
  const bx = px - ux * headL, by = py - uy * headL;
  const pts = [
    [tx + nx * shaft / 2, ty + ny * shaft / 2],
    [bx + nx * shaft / 2, by + ny * shaft / 2],
    [bx + nx * headW / 2, by + ny * headW / 2],
    [px, py],
    [bx - nx * headW / 2, by - ny * headW / 2],
    [bx - nx * shaft / 2, by - ny * shaft / 2],
    [tx - nx * shaft / 2, ty - ny * shaft / 2],
  ];
  return pts.map((p) => p.map((n) => n.toFixed(1)).join(",")).join(" ");
}

export default function App() {
  const headStyle: React.CSSProperties = {
    position: "absolute", fontFamily: HEAD, fontWeight: 700, fontSize: 19.5, color: "#111", whiteSpace: "nowrap",
  };
  return (
    <div style={{ position: "fixed", left: 0, top: 0, width: 1022, height: 589, overflow: "hidden", background: "#fff" }}>
      {/* top phase-magnitude chart */}
      <div style={{ position: "absolute", left: 215, top: 5, width: 566, height: 324, boxSizing: "border-box", border: "1px solid #b0b0b0", background: "#fff" }}>
        <ChartCanvas width={564} height={322} config={topConfig} />
      </div>

      <div style={{ ...headStyle, left: 8, top: 306.5, lineHeight: "22px" }}>{panelLeftTitle}</div>
      <div style={{ ...headStyle, left: 856, top: 278.5, lineHeight: "23px" }}>
        {panelRightTitle[0]}<br />{panelRightTitle[1]}
      </div>

      {/* bottom-left flux chart */}
      <div style={{ position: "absolute", left: 10, top: 335, width: 514, height: 260, background: "#c9c9c9" }}>
        <ChartCanvas width={514} height={260} config={fluxConfig} />
      </div>

      {/* arrows */}
      <svg width={1022} height={589} style={{ position: "absolute", left: 0, top: 0 }}>
        <polygon points={arrowPoints(410, 339, 299, 374, 7, 17, 14)} fill="#22a06a" stroke="#17754c" strokeWidth={1} />
        <polygon points={arrowPoints(548, 351, 499, 380, 7, 17, 14)} fill="#22a06a" stroke="#17754c" strokeWidth={1} />
      </svg>

      {/* bottom-right residual chart */}
      <div style={{ position: "absolute", left: 531, top: 330, width: 491, height: 257, background: "#c9c9c9" }}>
        <ChartCanvas width={491} height={257} config={residualConfig} />
      </div>
      <div style={{ position: "absolute", left: 912, top: 518, lineHeight: "20px", fontFamily: SERIF, fontWeight: 700, fontSize: 20, color: "#1a1a1a" }}>
        {residualStat}
      </div>
    </div>
  );
}
